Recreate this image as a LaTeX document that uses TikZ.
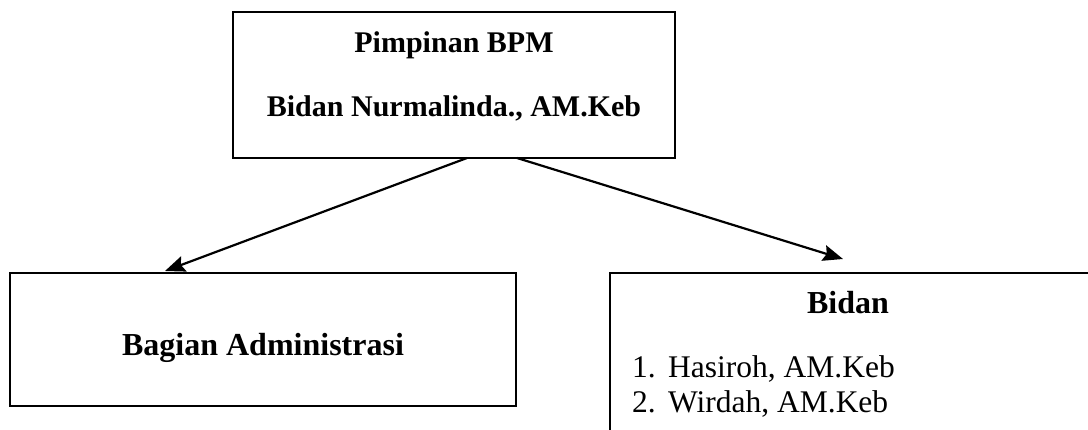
\documentclass[tikz,border=0pt]{standalone}
\usepackage{fontspec}
\setmainfont{Liberation Serif}
\usetikzlibrary{arrows.meta}
\begin{document}
\begin{tikzpicture}[x=1pt,y=-1pt,
  boxline/.style={draw=black,line width=1.6pt},
  conn/.style={line width=2.2pt,-{Stealth[length=20pt,width=16pt,inset=3pt]}},
  lbl/.style={font=\fontsize{30}{34}\selectfont\bfseries,inner sep=0pt,anchor=base},
  big/.style={font=\fontsize{32}{36}\selectfont\bfseries,inner sep=0pt,anchor=base},
  itm/.style={font=\fontsize{31.5}{36}\selectfont,inner sep=0pt,anchor=base west}]
\useasboundingbox (0,0) rectangle (1088,430);
\fill[white] (0,0) rectangle (1088,430);
% boxes
\node[boxline,inner sep=0pt,minimum width=442pt,minimum height=146pt] (top) at (454,85) {};
\node[boxline,inner sep=0pt,minimum width=506pt,minimum height=133pt] (admin) at (263,339.5) {};
\node[boxline,inner sep=0pt,minimum width=490pt,minimum height=172pt] (bidan) at (855,359) {};
% texts
\node[lbl] (t1) at (454,53) {Pimpinan BPM};
\node[lbl] (t2) at (454,117) {Bidan Nurmalinda., AM.Keb};
\node[big] (t3) at (263,356) {Bagian Administrasi};
\node[big] (t4) at (848,314) {Bidan};
\node[itm] (n1) at (632,378) {1.};
\node[itm] (i1) at (668,378) {Hasiroh, AM.Keb};
\node[itm] (n2) at (632,413) {2.};
\node[itm] (i2) at (668,413) {Wirdah, AM.Keb};
% connectors
\coordinate (s1) at (467,158);
\coordinate (s2) at (517,158);
\coordinate (e1) at (165,271);
\coordinate (e2) at (843,259);
\draw[conn] (s1) -- (e1);
\draw[conn] (s2) -- (e2);
\end{tikzpicture}
\end{document}
